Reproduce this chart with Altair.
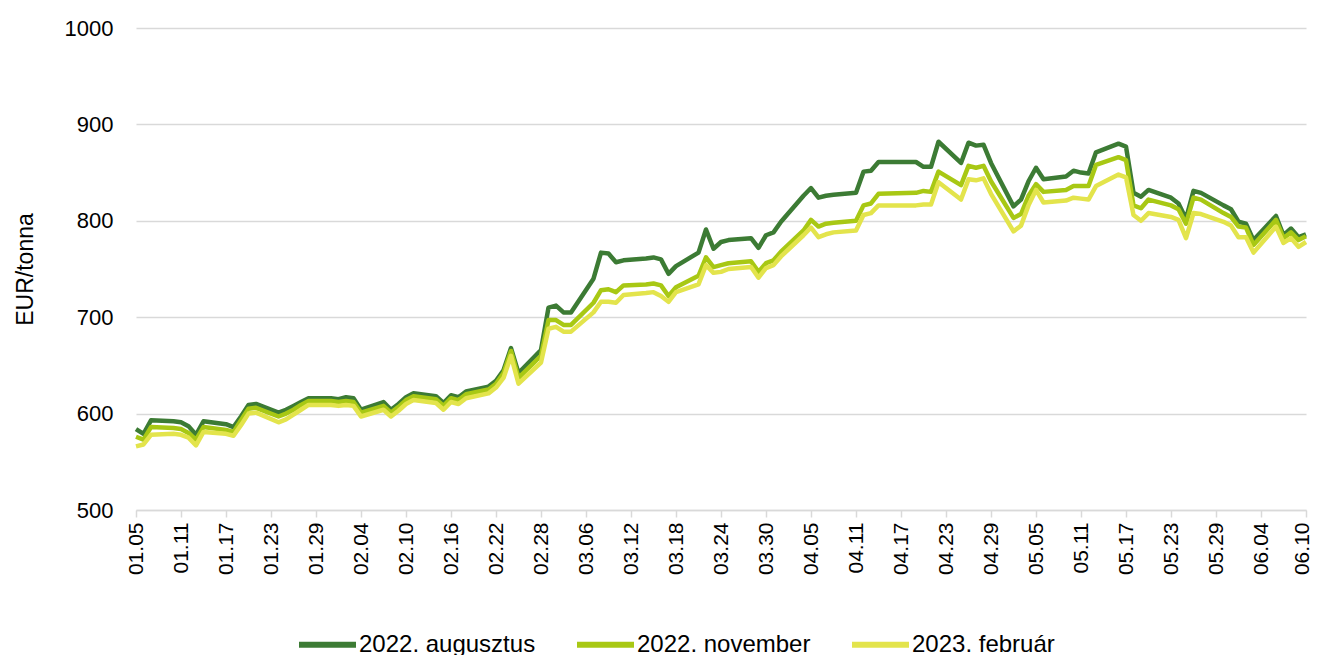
import altair as alt
import pandas as pd

# ---- data ----
dates = [
    # January 2022
    "2022-01-05", "2022-01-06", "2022-01-07", "2022-01-10", "2022-01-11", "2022-01-12",
    "2022-01-13", "2022-01-14", "2022-01-17", "2022-01-18", "2022-01-19", "2022-01-20",
    "2022-01-21", "2022-01-24", "2022-01-25", "2022-01-26", "2022-01-27", "2022-01-28",
    "2022-01-31",
    # February
    "2022-02-01", "2022-02-02", "2022-02-03", "2022-02-04", "2022-02-07", "2022-02-08",
    "2022-02-09", "2022-02-10", "2022-02-11", "2022-02-14", "2022-02-15", "2022-02-16",
    "2022-02-17", "2022-02-18", "2022-02-21", "2022-02-22", "2022-02-23", "2022-02-24",
    "2022-02-25", "2022-02-28",
    # March
    "2022-03-01", "2022-03-02", "2022-03-03", "2022-03-04", "2022-03-07", "2022-03-08",
    "2022-03-09", "2022-03-10", "2022-03-11", "2022-03-14", "2022-03-15", "2022-03-16",
    "2022-03-17", "2022-03-18", "2022-03-21", "2022-03-22", "2022-03-23", "2022-03-24",
    "2022-03-25", "2022-03-28", "2022-03-29", "2022-03-30", "2022-03-31",
    # April
    "2022-04-01", "2022-04-04", "2022-04-05", "2022-04-06", "2022-04-07", "2022-04-08",
    "2022-04-11", "2022-04-12", "2022-04-13", "2022-04-14", "2022-04-19", "2022-04-20",
    "2022-04-21", "2022-04-22", "2022-04-25", "2022-04-26", "2022-04-27", "2022-04-28",
    "2022-04-29",
    # May
    "2022-05-02", "2022-05-03", "2022-05-04", "2022-05-05", "2022-05-06", "2022-05-09",
    "2022-05-10", "2022-05-11", "2022-05-12", "2022-05-13", "2022-05-16", "2022-05-17",
    "2022-05-18", "2022-05-19", "2022-05-20", "2022-05-23", "2022-05-24", "2022-05-25",
    "2022-05-26", "2022-05-27", "2022-05-30", "2022-05-31",
    # June
    "2022-06-01", "2022-06-02", "2022-06-03", "2022-06-06", "2022-06-07", "2022-06-08",
    "2022-06-09", "2022-06-10",
]

aug_2022 = [
    584, 579, 593, 592, 591, 587, 578, 592, 589, 586, 597, 609, 610, 601, 604, 608, 612, 616, 616,
    615, 617, 616, 604, 612, 604, 610, 617, 621, 618, 611, 619, 617, 623, 628, 634, 645, 668, 642, 666,
    710, 712, 705, 705, 740, 767, 766, 757, 759, 761, 762, 760, 745, 753, 767, 791, 771, 778, 780, 782, 772, 785, 788,
    799, 826, 834, 824, 826, 827, 829, 851, 852, 861, 861, 856, 856, 882, 860, 881, 878, 879, 860,
    815, 822, 841, 855, 843, 846, 852, 850, 849, 871, 880, 877, 829, 825, 832, 824, 818, 802, 831, 829, 816, 812,
    799, 797, 780, 805, 785, 792, 783, 786,
]

nov_2022 = [
    576, 573, 586, 585, 584, 580, 573, 586, 583, 581, 593, 605, 606, 597, 600, 604, 609, 613, 613,
    612, 613, 612, 601, 608, 601, 607, 614, 618, 615, 608, 616, 614, 620, 625, 631, 642, 665, 637, 660,
    697, 697, 692, 692, 715, 728, 729, 726, 733, 734, 735, 733, 722, 731, 743, 762, 752, 754, 756, 758, 747, 756, 759,
    768, 790, 801, 794, 797, 798, 800, 816, 818, 828, 829, 831, 830, 851, 837, 857, 855, 857, 841,
    803, 807, 826, 838, 830, 832, 836, 836, 836, 858, 866, 863, 816, 813, 822, 816, 812, 797, 824, 822, 808, 804,
    794, 793, 775, 801, 782, 788, 780, 784,
]

feb_2023 = [
    566, 568, 578, 579, 578, 575, 567, 581, 579, 577, 588, 600, 601, 591, 594, 599, 604, 609, 609,
    608, 609, 608, 597, 604, 597, 603, 610, 614, 611, 604, 612, 610, 616, 621, 627, 637, 660, 631, 653,
    688, 690, 685, 685, 705, 716, 716, 715, 723, 725, 726, 722, 716, 726, 734, 754, 746, 747, 750, 752, 741, 751, 754,
    763, 785, 793, 783, 786, 788, 790, 806, 808, 816, 816, 817, 817, 840, 822, 843, 842, 844, 828,
    789, 795, 816, 832, 819, 821, 824, 823, 822, 836, 848, 845, 806, 800, 808, 804, 801, 782, 808, 807, 799, 795,
    783, 783, 767, 794, 777, 782, 773, 778,
]

series_names = ["2022. augusztus", "2022. november", "2023. február"]
series_colors = ["#3C7B34", "#A8C814", "#E3E44C"]

x_tick_labels = [
    "01.05", "01.11", "01.17", "01.23", "01.29", "02.04", "02.10", "02.16", "02.22",
    "02.28", "03.06", "03.12", "03.18", "03.24", "03.30", "04.05", "04.11", "04.17",
    "04.23", "04.29", "05.05", "05.11", "05.17", "05.23", "05.29", "06.04", "06.10",
]
y_ticks = [500, 600, 700, 800, 900, 1000]

# ---- long table ----
rows = []
for name, vals in zip(series_names, [aug_2022, nov_2022, feb_2023]):
    for d, v in zip(dates, vals):
        rows.append({"date": d, "series": name, "value": v})
df = pd.DataFrame(rows)

tick_values = [
    alt.DateTime(year=2022, month=int(t[:2]), date=int(t[3:]), utc=True)
    for t in x_tick_labels
]

FONT = "Liberation Sans"

chart = (
    alt.Chart(df)
    .mark_line(strokeWidth=4.5, strokeJoin="round")
    .encode(
        x=alt.X(
            "date:T",
            scale=alt.Scale(type="utc", domain=[tick_values[0], tick_values[-1]], nice=False),
            axis=alt.Axis(
                values=tick_values,
                format="%m.%d",
                labelAngle=270,
                labelFontSize=21,
                labelColor="#000000",
                labelPadding=5,
                labelOverlap=False,
                labelFont=FONT,
                # keep the last (right-edge) label inside the drawing
                labelOffset={
                    "condition": {"test": "datum.value > utc(2022, 5, 8)", "value": -4},
                    "value": 0,
                },
                tickSize=7,
                tickColor="#D9D9D9",
                tickWidth=1.5,
                domainColor="#D9D9D9",
                domainWidth=1.5,
                grid=False,
                title=None,
            ),
        ),
        y=alt.Y(
            "value:Q",
            scale=alt.Scale(domain=[500, 1000], nice=False, zero=False),
            axis=alt.Axis(
                values=y_ticks,
                format="d",
                title="EUR/tonna",
                titleFont=FONT,
                titleFontSize=23,
                titleFontWeight="normal",
                titleColor="#000000",
                titlePadding=27,
                labelFont=FONT,
                labelFontSize=22,
                labelColor="#000000",
                labelPadding=23,
                domain=False,
                ticks=False,
                grid=True,
                gridColor="#D9D9D9",
                gridWidth=1.5,
            ),
        ),
        color=alt.Color(
            "series:N",
            scale=alt.Scale(domain=series_names, range=series_colors),
            legend=alt.Legend(
                title=None,
                orient="none",
                legendX=160,
                legendY=585,
                direction="horizontal",
                symbolType="stroke",
                symbolSize=3249,
                symbolStrokeWidth=6,
                labelFont=FONT,
                labelFontSize=24,
                labelColor="#000000",
                labelOffset=0,
                labelLimit=400,
                columnPadding=29,
                padding=0,
            ),
        ),
        order=alt.Order("date:T"),
    )
    .properties(
        width=1170,
        height=482,
        autosize=alt.AutoSizeParams(type="none"),
        padding={"left": 128, "top": 20, "right": 6, "bottom": 146},
        background="#FFFFFF",
    )
    .configure_view(stroke=None)
)

chart.save("out.html", embed_options={"renderer": "svg", "actions": False})
